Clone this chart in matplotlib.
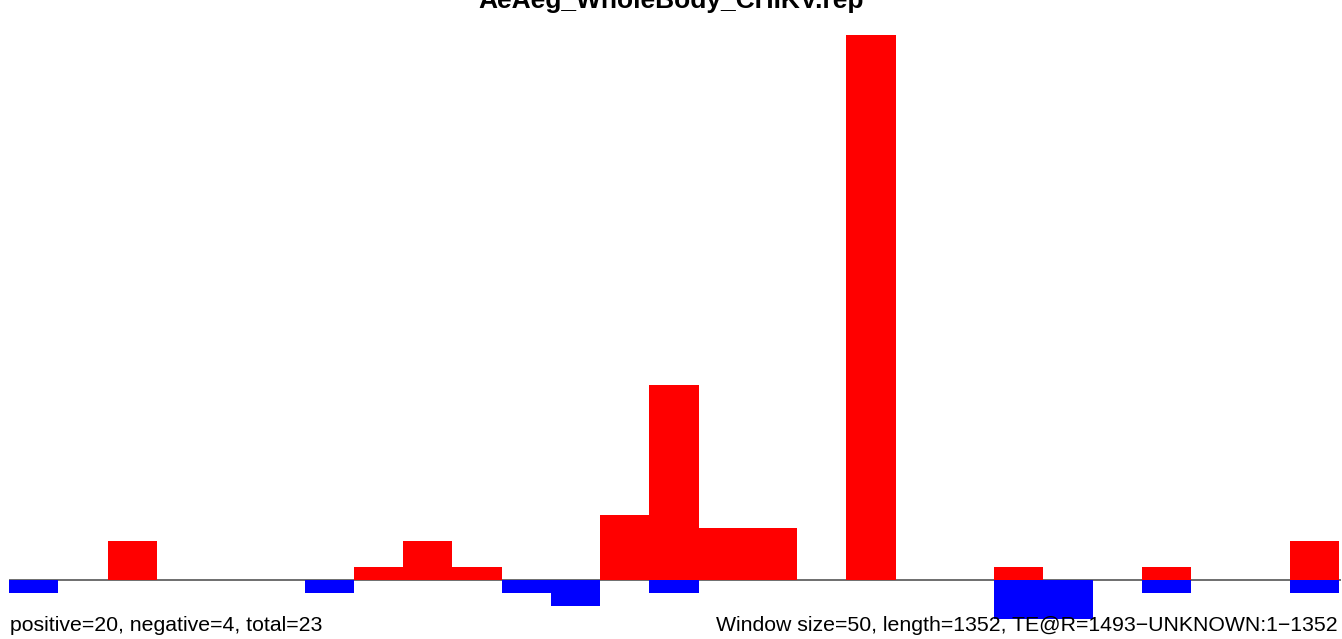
import matplotlib
matplotlib.use('Agg')
import matplotlib.pyplot as plt
import numpy as np

# counts per 50 bp window along the 1352 bp element
window = 50
length = 1352
positive = [0, 0, 3, 0, 0, 0, 0, 1, 3, 1, 0, 0, 5, 15, 4, 4, 0, 42, 0, 0, 1, 0, 0, 1, 0, 0, 3, 0]
negative = [1, 0, 0, 0, 0, 0, 1, 0, 0, 0, 1, 2, 0, 1, 0, 0, 0, 0, 0, 0, 3, 3, 0, 1, 0, 0, 1, 0]

title = 'AeAeg_WholeBody_CHIKV.rep'
left_note = 'positive=20, negative=4, total=23'
right_note = 'Window size=50, length=1352, TE@R=1493\u2212UNKNOWN:1\u22121352'

plt.rcParams['font.family'] = ['Liberation Sans', 'DejaVu Sans']

W, H = 1342, 639
fig = plt.figure(figsize=(W / 100, H / 100), dpi=100)
ax = fig.add_axes([9 / W, (H - 619) / H, (1341 - 9) / W, (619 - 35) / H])

starts = np.arange(len(positive)) * window
widths = np.minimum(window, length - starts)
pos = np.array(positive)
neg = -np.array(negative)

ax.axhline(0, color='#555555', linewidth=1.2, zorder=1)
ax.bar(starts, pos, width=widths, align='edge', color='#ff0000', linewidth=0, zorder=2)
ax.bar(starts, neg, width=widths, align='edge', color='#0000ff', linewidth=0, zorder=2)

ax.set_xlim(0, length)
ax.set_ylim(neg.min(), pos.max())
ax.axis('off')

fig.text(0.5, 1 - 8 / H, title, ha='center', va='baseline',
         fontsize=19, fontweight='bold')
fig.text(10 / W, 1 - 631 / H, left_note, ha='left', va='baseline', fontsize=15.3, zorder=5)
fig.text(1338 / W, 1 - 631 / H, right_note, ha='right', va='baseline', fontsize=15.3, zorder=5)

fig.savefig('out.png', dpi=100)
